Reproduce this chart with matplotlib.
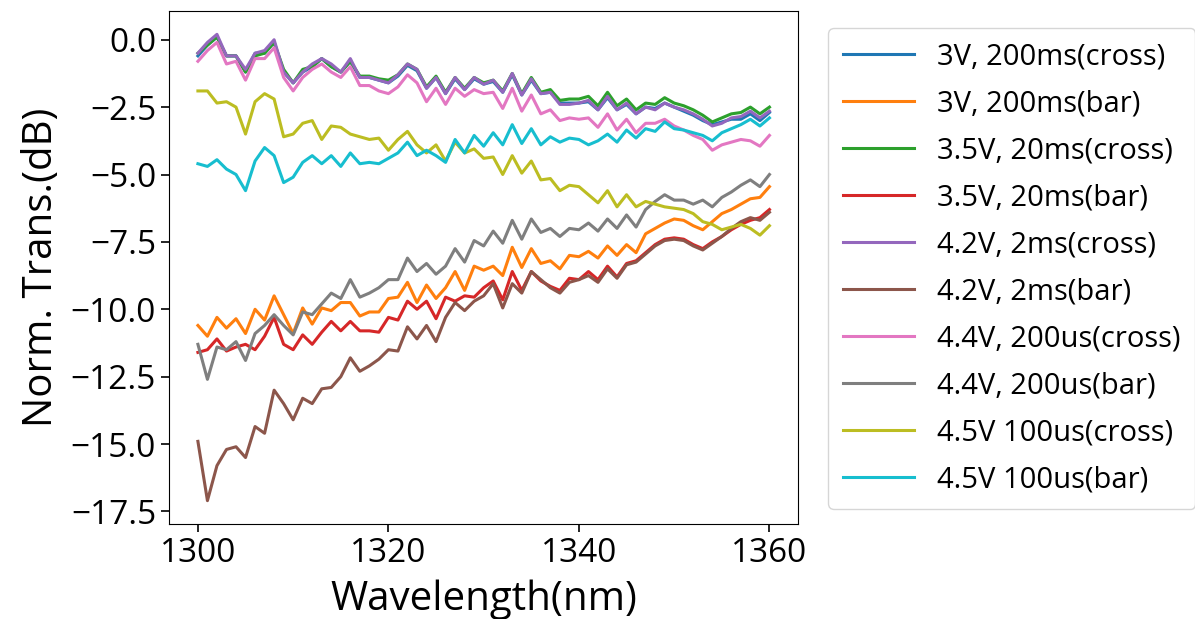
import numpy as np
import matplotlib.pyplot as plt

plt.rcParams['font.family'] = ['Open Sans', 'DejaVu Sans']

# wavelength grid (nm), 1 nm step
wavelength = np.arange(1300, 1361, 1)

labels = ['3V, 200ms(cross)', '3V, 200ms(bar)', '3.5V, 20ms(cross)', '3.5V, 20ms(bar)',
          '4.2V, 2ms(cross)', '4.2V, 2ms(bar)', '4.4V, 200us(cross)', '4.4V, 200us(bar)',
          '4.5V 100us(cross)', '4.5V 100us(bar)']

# normalised transmission (dB)
v3_200ms_cross = [-0.6, -0.2, 0.1, -0.6, -0.6, -1.2, -0.5, -0.5, -0.1, -1.2,
                  -1.6, -1.2, -1.0, -0.7, -1.0, -1.2, -0.8, -1.4, -1.4, -1.5,
                  -1.6, -1.35, -0.95, -1.15, -1.8, -1.4, -2.0, -1.45, -1.85, -1.45,
                  -1.65, -1.55, -1.95, -1.3, -2.05, -1.5, -2.0, -1.95, -2.35, -2.35,
                  -2.35, -2.3, -2.6, -2.15, -2.6, -2.4, -2.75, -2.5, -2.55, -2.35,
                  -2.5, -2.65, -2.8, -3.0, -3.15, -3.05, -2.95, -2.95, -2.75, -3.0, -2.7]
v3_200ms_bar = [-10.6, -11.0, -10.3, -10.7, -10.35, -10.9, -10.0, -10.4, -9.5, -10.2,
                -10.9, -9.95, -10.55, -9.95, -10.05, -9.75, -9.75, -10.25, -10.1, -10.1,
                -9.6, -9.55, -9.0, -9.75, -9.1, -9.6, -9.2, -8.6, -9.3, -8.4,
                -8.55, -8.4, -8.75, -7.7, -8.45, -7.75, -8.3, -8.2, -8.5, -8.0,
                -8.05, -7.85, -8.1, -7.65, -8.0, -7.6, -7.9, -7.2, -7.0, -6.8,
                -6.65, -6.7, -6.9, -7.05, -6.75, -6.45, -6.3, -6.1, -5.9, -5.85, -5.45]
v35_20ms_cross = [-0.5, -0.2, 0.1, -0.6, -0.6, -1.2, -0.6, -0.5, -0.1, -1.1,
                  -1.6, -1.1, -1.0, -0.7, -1.0, -1.2, -0.8, -1.35, -1.35, -1.45,
                  -1.5, -1.3, -0.9, -1.1, -1.75, -1.35, -1.95, -1.4, -1.8, -1.4,
                  -1.6, -1.5, -1.9, -1.25, -2.0, -1.4, -1.95, -1.85, -2.25, -2.2,
                  -2.2, -2.1, -2.45, -1.95, -2.45, -2.2, -2.6, -2.35, -2.4, -2.15,
                  -2.35, -2.45, -2.6, -2.8, -3.05, -2.9, -2.75, -2.7, -2.5, -2.75, -2.5]
v35_20ms_bar = [-11.6, -11.5, -11.1, -11.55, -11.4, -11.3, -11.5, -11.0, -10.3, -11.3,
                -11.5, -10.95, -11.3, -10.85, -10.45, -10.8, -10.45, -10.8, -10.8, -10.85,
                -10.3, -10.4, -9.7, -10.0, -9.7, -10.35, -9.55, -9.7, -9.5, -9.55,
                -9.2, -8.95, -9.65, -8.6, -9.3, -8.6, -8.95, -9.15, -9.3, -8.85,
                -8.9, -8.6, -8.9, -8.4, -8.8, -8.3, -8.2, -7.9, -7.6, -7.4,
                -7.35, -7.4, -7.6, -7.75, -7.5, -7.3, -7.05, -6.85, -6.7, -6.6, -6.3]
v42_2ms_cross = [-0.5, -0.1, 0.2, -0.6, -0.6, -1.1, -0.5, -0.4, 0.0, -1.2,
                 -1.6, -1.2, -0.9, -0.7, -0.9, -1.2, -0.7, -1.4, -1.4, -1.5,
                 -1.6, -1.3, -0.9, -1.1, -1.8, -1.4, -2.0, -1.4, -1.85, -1.4,
                 -1.65, -1.5, -1.95, -1.25, -2.05, -1.45, -2.0, -1.95, -2.4, -2.4,
                 -2.35, -2.25, -2.6, -2.1, -2.6, -2.35, -2.75, -2.5, -2.6, -2.35,
                 -2.5, -2.6, -2.75, -2.95, -3.2, -3.1, -2.9, -2.85, -2.65, -2.9, -2.65]
v42_2ms_bar = [-14.9, -17.1, -15.8, -15.2, -15.1, -15.5, -14.35, -14.6, -13.0, -13.5,
               -14.1, -13.3, -13.5, -12.95, -12.9, -12.5, -11.8, -12.3, -12.1, -11.85,
               -11.5, -11.55, -10.65, -11.1, -10.6, -11.2, -10.3, -9.75, -10.05, -9.7,
               -9.5, -9.05, -9.95, -9.05, -9.4, -8.6, -8.9, -9.2, -9.4, -9.0,
               -8.9, -8.75, -9.0, -8.5, -8.85, -8.35, -8.25, -7.95, -7.65, -7.45,
               -7.4, -7.45, -7.65, -7.8, -7.55, -7.3, -7.0, -6.75, -6.6, -6.7, -6.4]
v44_200us_cross = [-0.8, -0.4, -0.1, -0.9, -0.8, -1.5, -0.7, -0.7, -0.3, -1.4,
                   -1.9, -1.4, -1.1, -0.9, -1.2, -1.4, -1.0, -1.7, -1.7, -1.9,
                   -2.0, -1.75, -1.3, -1.6, -2.3, -1.8, -2.4, -1.8, -2.1, -1.85,
                   -2.0, -1.95, -2.55, -1.8, -2.65, -2.05, -2.75, -2.6, -3.0, -2.9,
                   -2.95, -2.9, -3.25, -2.75, -3.35, -2.95, -3.45, -3.1, -3.1, -2.95,
                   -3.2, -3.35, -3.55, -3.7, -4.1, -3.9, -3.8, -3.7, -3.75, -3.95, -3.55]
v44_200us_bar = [-11.3, -12.6, -11.4, -11.5, -11.2, -11.9, -10.9, -10.6, -10.2, -10.6,
                 -10.95, -10.1, -10.2, -9.8, -9.4, -9.6, -8.9, -9.55, -9.4, -9.2,
                 -8.9, -8.9, -8.1, -8.6, -8.3, -8.7, -8.4, -7.75, -8.25, -7.45,
                 -7.65, -7.1, -7.55, -6.7, -7.4, -6.65, -7.15, -7.0, -7.3, -7.0,
                 -7.05, -6.8, -7.1, -6.65, -7.0, -6.5, -6.95, -6.3, -6.0, -5.75,
                 -5.95, -5.95, -6.1, -5.95, -6.2, -5.85, -5.65, -5.4, -5.2, -5.45, -5.0]
v45_100us_cross = [-1.9, -1.9, -2.35, -2.3, -2.5, -3.5, -2.3, -2.0, -2.2, -3.6,
                   -3.5, -3.1, -3.0, -3.7, -3.2, -3.25, -3.5, -3.6, -3.7, -3.65,
                   -4.1, -3.7, -3.4, -3.9, -4.2, -3.9, -4.5, -3.8, -4.2, -4.05,
                   -4.4, -4.35, -5.0, -4.3, -4.95, -4.5, -5.2, -5.15, -5.6, -5.4,
                   -5.45, -5.75, -6.05, -5.6, -6.2, -5.75, -6.2, -6.0, -6.1, -6.2,
                   -6.25, -6.3, -6.45, -6.75, -6.85, -7.05, -6.95, -6.85, -7.0, -7.25, -6.9]
v45_100us_bar = [-4.6, -4.7, -4.45, -4.8, -5.0, -5.6, -4.5, -4.0, -4.3, -5.3,
                 -5.1, -4.55, -4.3, -4.6, -4.3, -4.7, -4.2, -4.6, -4.55, -4.6,
                 -4.4, -4.2, -3.8, -4.3, -4.1, -4.3, -4.55, -3.7, -4.2, -3.55,
                 -3.95, -3.45, -3.9, -3.15, -3.85, -3.3, -3.9, -3.6, -3.8, -3.65,
                 -3.7, -3.9, -3.75, -3.5, -3.8, -3.35, -3.65, -3.3, -3.4, -3.05,
                 -3.3, -3.35, -3.45, -3.55, -3.75, -3.45, -3.3, -3.15, -2.95, -3.2, -2.9]

series = [v3_200ms_cross, v3_200ms_bar, v35_20ms_cross, v35_20ms_bar,
          v42_2ms_cross, v42_2ms_bar, v44_200us_cross, v44_200us_bar,
          v45_100us_cross, v45_100us_bar]

fig = plt.figure(figsize=(11.95, 6.19), dpi=100)
ax = fig.add_axes([0.1417, 0.1535, 0.5261, 0.8287])

for y, lab in zip(series, labels):
    ax.plot(wavelength, y, label=lab, linewidth=2.2)

ax.set_xticks([1300, 1320, 1340, 1360])
ax.set_yticks(np.arange(0, -17.6, -2.5))
ax.tick_params(labelsize=24, length=6, width=1.2)
ax.set_xlabel('Wavelength(nm)', fontsize=29, labelpad=7)
ax.set_ylabel('Norm. Trans.(dB)', fontsize=29, labelpad=6)

ax.legend(loc='upper left', bbox_to_anchor=(828 / 1195, 591 / 619),
          bbox_transform=fig.transFigure, fontsize=21,
          handlelength=2.45, handletextpad=0.8, labelspacing=0.615,
          borderpad=0.5, borderaxespad=0)

fig.savefig('out.png', dpi=100)
